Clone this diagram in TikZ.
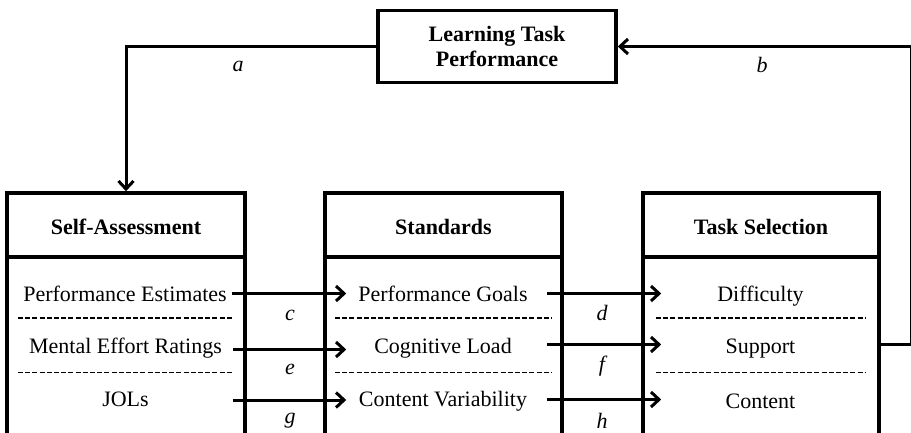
\documentclass[tikz,border=0pt]{standalone}
\usepackage{fontspec}
\setmainfont{Liberation Serif}
\usetikzlibrary{arrows.meta}

\tikzset{
  txt/.style={font=\fontsize{22}{25}\selectfont, inner sep=0pt},
  head/.style={txt, font=\fontsize{22}{25}\selectfont\bfseries},
  lbl/.style={txt, font=\fontsize{22}{25}\selectfont\itshape},
  panel/.style={draw, line width=3.6pt, minimum height=252pt, inner sep=0pt},
  topbox/.style={draw, line width=3.6pt, minimum width=238pt, minimum height=72pt,
    inner sep=0pt, align=center, font=\fontsize{22}{25}\selectfont\bfseries},
  rule/.style={line width=3.6pt},
  divider/.style={line width=1.6pt, dash pattern=on 5pt off 2.2pt},
  arr/.style={line width=3pt, -{Straight Barb[length=8pt,width=15pt]}},
  link/.style={line width=3pt}
}

\begin{document}
\begin{tikzpicture}[x=1pt, y=-1pt]
  \useasboundingbox (0,0) rectangle (911,432);

  % top box
  \node[topbox] (ltp) at (497,46.5) {Learning Task\\Performance};

  % the three panels (they run on below the page edge)
  \node[panel, minimum width=238pt] (sa)  at (126,319)   {};
  \node[panel, minimum width=237pt] (std) at (443.5,319) {};
  \node[panel, minimum width=236pt] (ts)  at (761,319)   {};

  % header rules
  \coordinate (hd) at (0,257);
  \draw[rule] (sa.west |- hd)  -- (sa.east |- hd);
  \draw[rule] (std.west |- hd) -- (std.east |- hd);
  \draw[rule] (ts.west |- hd)  -- (ts.east |- hd);

  % headers
  \node[head, anchor=base] (sah)  at (126,234)   {Self-Assessment};
  \node[head, anchor=base] (stdh) at (443.5,234) {Standards};
  \node[head, anchor=base] (tsh)  at (761,234)   {Task Selection};

  % rows
  \node[txt, anchor=base] (sa1) at (125,301) {Performance Estimates};
  \node[txt, anchor=base] (sa2) at (125.5,353.5) {Mental Effort Ratings};
  \node[txt, anchor=base] (sa3) at (125.5,406.5) {JOLs};
  \node[txt, anchor=base] (st1) at (443,301) {Performance Goals};
  \node[txt, anchor=base] (st2) at (443,353.5) {Cognitive Load};
  \node[txt, anchor=base] (st3) at (443,406.5) {Content Variability};
  \node[txt, anchor=base] (ts1) at (760.5,301.5) {Difficulty};
  \node[txt, anchor=base] (ts2) at (760.5,353.5) {Support};
  \node[txt, anchor=base] (ts3) at (760.5,408) {Content};

  % dashed separators
  \foreach \yy in {318,372.5} {
    \draw[divider] (18,\yy)  -- (233,\yy);
    \draw[divider] (335,\yy) -- (552,\yy);
    \draw[divider] (656,\yy) -- (865,\yy);
  }

  % row levels of the links
  \coordinate (r1) at (0,293.5);
  \coordinate (r2) at (0,349.5);
  \coordinate (r3) at (0,400);
  \coordinate (q1) at (0,293.5);
  \coordinate (q2) at (0,344.5);
  \coordinate (q3) at (0,399.5);

  % self-assessment -> standards
  \draw[arr] ([xshift=-15pt]sa.east |- r1) -- ([xshift=23pt]std.west |- r1);
  \draw[arr] ([xshift=-14pt]sa.east |- r2) -- ([xshift=23pt]std.west |- r2);
  \draw[arr] ([xshift=-14pt]sa.east |- r3) -- ([xshift=23pt]std.west |- r3);
  % standards -> task selection
  \draw[arr] ([xshift=-17pt]std.east |- q1) -- ([xshift=20pt]ts.west |- q1);
  \draw[arr] ([xshift=-17pt]std.east |- q2) -- ([xshift=20pt]ts.west |- q2);
  \draw[arr] ([xshift=-17pt]std.east |- q3) -- ([xshift=20pt]ts.west |- q3);

  % feedback loop
  \coordinate (rt) at (911.2,46.5);
  \draw[arr] (ltp.west) -| (sa.north);
  \draw[link] (ts.east |- q2) -| (rt);
  \draw[arr] (rt) -- (ltp.east);

  % path labels
  \node[lbl, anchor=base] (la) at (238,71.5) {a};
  \node[lbl, anchor=base] (lb) at (762,72.5) {b};
  \node[lbl, anchor=base] (lc) at (290,320) {c};
  \node[lbl, anchor=base] (le) at (290,374.5) {e};
  \node[lbl, anchor=base] (lg) at (290,423.5) {g};
  \node[lbl, anchor=base] (ld) at (602,320) {d};
  \node[lbl, anchor=base] (lf) at (602,371) {f};
  \node[lbl, anchor=base] (lh) at (602,428) {h};
\end{tikzpicture}
\end{document}
